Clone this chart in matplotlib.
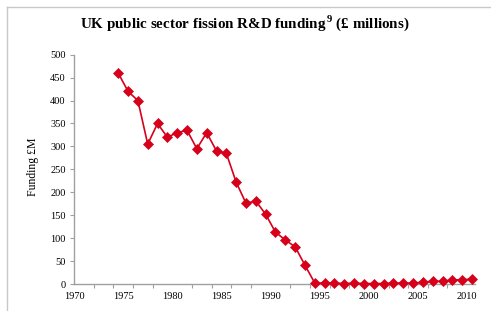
import matplotlib
matplotlib.use("Agg")
import matplotlib.pyplot as plt
from matplotlib.lines import Line2D

plt.rcParams['font.family'] = ['Liberation Serif', 'DejaVu Serif']
plt.rcParams['mathtext.fontset'] = 'custom'
plt.rcParams['mathtext.rm'] = 'Liberation Serif'

years = [1974.5, 1975.5, 1976.5, 1977.5, 1978.5, 1979.5, 1980.5, 1981.5, 1982.5,
         1983.5, 1984.5, 1985.5, 1986.5, 1987.5, 1988.5, 1989.5, 1990.5, 1991.5,
         1992.5, 1993.5, 1994.5, 1995.5, 1996.5, 1997.5, 1998.5, 1999.5, 2000.5,
         2001.5, 2002.5, 2003.5, 2004.5, 2005.5, 2006.5, 2007.5, 2008.5, 2009.5,
         2010.5]
funding = [460, 420, 400, 305, 350, 320, 330, 335, 295,
           330, 290, 285, 222, 176, 181, 152, 113, 96,
           81, 41, 2, 2, 2, 1, 2, 1, 1,
           1, 2, 2, 2, 4, 6, 6, 9, 9,
           11]
x_labels = [1970, 1975, 1980, 1985, 1990, 1995, 2000, 2005, 2010]
y_ticks = [0, 50, 100, 150, 200, 250, 300, 350, 400, 450, 500]

W, H = 491, 311
fig = plt.figure(figsize=(W / 100, H / 100), dpi=100)
ax = fig.add_axes([74 / W, (H - 284) / H, 401 / W, 229.3 / H])

ax.plot(years, funding, color='#d7001a', lw=1.2, marker='D', markersize=5.6,
        markeredgewidth=0.5, markeredgecolor='#d7001a', clip_on=False, zorder=3)

ax.set_xlim(1970, 2010.8)
ax.set_ylim(0, 500)
ax.set_yticks(y_ticks)
ax.set_yticklabels([str(v) for v in y_ticks], fontsize=7.5)
ax.set_xticks(x_labels)
ax.set_xticklabels([str(v) for v in x_labels], fontsize=7.5)
ax.set_xticks(list(range(1970, 2011, 2)), minor=True)
ax.tick_params(axis='x', which='major', length=0, pad=6)
ax.tick_params(axis='x', which='minor', length=3, color='#a0a0a0', width=0.8)
ax.tick_params(axis='y', length=3, color='#a0a0a0', width=0.8, pad=3)

for s in ['top', 'right']:
    ax.spines[s].set_visible(False)
for s in ['left', 'bottom']:
    ax.spines[s].set_color('#a0a0a0')
    ax.spines[s].set_linewidth(1.0)

fig.text(33 / W, 1 - 167 / H, 'Funding £M', rotation=90, ha='center', va='center',
         fontsize=8.5)
fig.text(245 / W, 1 - 23 / H,
         r'UK public sector fission R&D funding$^{\mathregular{\,9}}$ (£ millions)',
         ha='center', va='center', fontsize=10.8, fontweight='bold')

# frame border
fig.add_artist(Line2D([7 / W, 7 / W], [0, 1 - 7 / H], transform=fig.transFigure,
                      color='#c8c8c8', lw=1.0))
fig.add_artist(Line2D([7 / W, 1], [1 - 7 / H, 1 - 7 / H], transform=fig.transFigure,
                      color='#c8c8c8', lw=1.0))

fig.savefig('out.png', dpi=100)
